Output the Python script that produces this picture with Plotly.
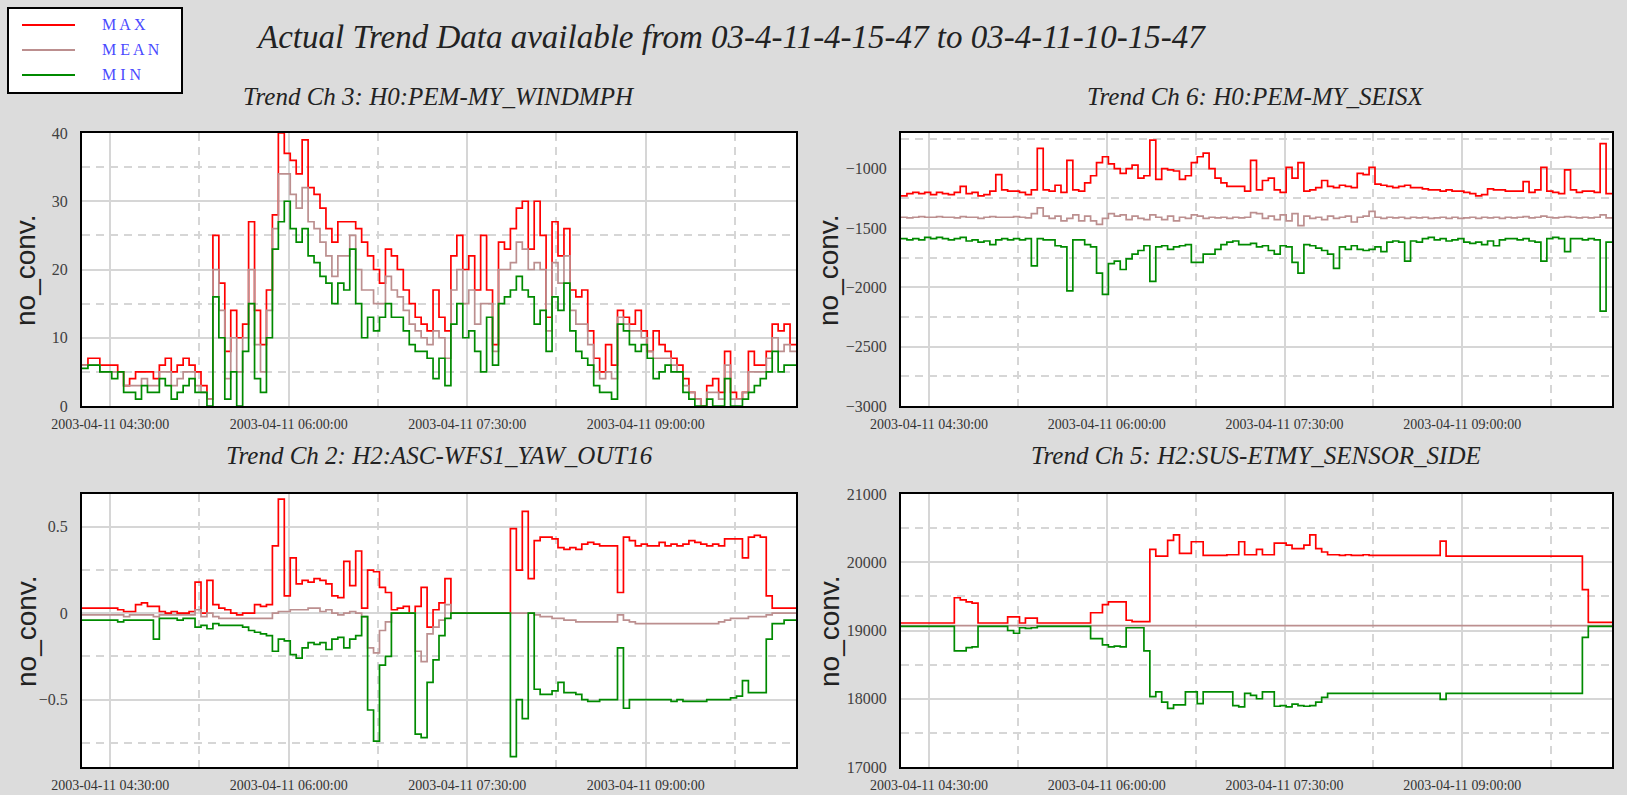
import pandas as pd
import plotly.graph_objects as go

W, H = 1627, 795
START = "2003-04-11 04:15:47"
END = "2003-04-11 10:15:47"
TIMES = list(pd.date_range(START, periods=120, freq="3min")) + [pd.Timestamp(END)]

# ---- Trend Ch 3: H0:PEM-MY_WINDMPH (3-minute samples) ----
wind_max = [6, 7, 7, 6, 6, 6, 5, 3, 4, 5,
            5, 5, 4, 6, 7, 5, 6, 7, 6, 5,
            3, 1, 25, 18, 8, 14, 10, 12, 27, 14,
            9, 17, 28, 40, 37, 36, 34, 39, 32, 31,
            29, 26, 24, 27, 27, 27, 26, 24, 22, 20,
            18, 23, 22, 20, 17, 15, 13, 12, 11, 17,
            13, 11, 22, 25, 20, 22, 17, 25, 17, 9,
            24, 23, 26, 29, 30, 23, 30, 25, 13, 27,
            22, 26, 17, 16, 17, 11, 7, 5, 9, 6,
            14, 13, 12, 14, 11, 8, 11, 9, 8, 7,
            6, 4, 2, 1, 0, 3, 4, 2, 8, 2,
            1, 2, 8, 6, 6, 8, 12, 11, 12, 9]
wind_mean = [6, 6, 6, 5, 5, 5, 5, 3, 3, 3,
             4, 3, 3, 5, 5, 3, 4, 5, 5, 3,
             2, 1, 20, 14, 4, 10, 5, 10, 20, 9,
             5, 14, 26, 34, 34, 31, 29, 32, 27, 26,
             24, 22, 19, 22, 22, 25, 20, 17, 17, 15,
             15, 19, 17, 16, 14, 12, 11, 10, 9, 11,
             10, 7, 17, 20, 15, 17, 12, 15, 15, 8,
             20, 20, 21, 24, 23, 20, 21, 20, 11, 21,
             18, 22, 14, 12, 12, 9, 5, 4, 5, 4,
             13, 12, 11, 11, 10, 8, 7, 7, 7, 6,
             5, 3, 2, 1, 0, 2, 2, 1, 6, 1,
             1, 2, 5, 5, 5, 7, 10, 8, 9, 8]
wind_min = [5.5, 6, 6, 5, 5, 4, 5, 2, 2, 1,
            3, 2, 2, 4, 3, 1, 2, 3, 4, 2,
            2, 0, 16, 10, 1, 5, 0, 8, 15, 4,
            2, 10, 23, 27, 30, 26, 24, 26, 22, 21,
            19, 18, 15, 18, 17, 23, 15, 10, 13, 11,
            13, 15, 13, 13, 11, 9, 8, 8, 7, 4,
            7, 3, 12, 15, 10, 11, 8, 5, 13, 6,
            15, 16, 17, 19, 17, 16, 12, 14, 8, 16,
            14, 18, 11, 8, 7, 6, 3, 2, 2, 1,
            12, 11, 9, 8, 9, 7, 4, 5, 6, 5,
            5, 2, 1, 0, 0, 1, 0, 0, 4, 0,
            0, 1, 2, 3, 4, 5, 8, 5, 6, 6]

# ---- Trend Ch 6: H0:PEM-MY_SEISX ----
seis_max = [-1230, -1210, -1200, -1210, -1200, -1220, -1200, -1210, -1220, -1200,
            -1150, -1210, -1200, -1230, -1220, -1190, -1050, -1180, -1190, -1190,
            -1200, -1220, -1180, -830, -1180, -1190, -1140, -1200, -930, -1180,
            -1190, -1120, -1060, -950, -900, -960, -1000, -1040, -1000, -970,
            -1080, -1060, -760, -1090, -1000, -1010, -1020, -1090, -1060, -950,
            -900, -870, -1000, -1080, -1120, -1150, -1150, -1150, -1190, -930,
            -1180, -1100, -1080, -1180, -1200, -990, -1080, -950, -1190, -1180,
            -1160, -1100, -1150, -1160, -1140, -1150, -1160, -1040, -1050, -990,
            -1130, -1140, -1150, -1160, -1150, -1140, -1160, -1160, -1170, -1180,
            -1180, -1190, -1180, -1190, -1190, -1200, -1210, -1230, -1220, -1170,
            -1180, -1180, -1190, -1190, -1190, -1110, -1200, -1180, -990, -1190,
            -1200, -1210, -1010, -1180, -1200, -1190, -1190, -1200, -790, -1210]
seis_mean = [-1410, -1415, -1410, -1405, -1410, -1410, -1405, -1410, -1410, -1415,
             -1405, -1410, -1410, -1420, -1410, -1405, -1410, -1410, -1410, -1405,
             -1410, -1415, -1380, -1330, -1400, -1420, -1400, -1440, -1420, -1390,
             -1440, -1400, -1440, -1470, -1420, -1380, -1400, -1390, -1430, -1400,
             -1420, -1430, -1390, -1410, -1430, -1400, -1440, -1410, -1420, -1390,
             -1400, -1420, -1410, -1415, -1410, -1420, -1410, -1415, -1410, -1370,
             -1380, -1420, -1400, -1430, -1390, -1440, -1380, -1480, -1400, -1420,
             -1410, -1430, -1400, -1420, -1410, -1400, -1450, -1410, -1400, -1360,
             -1410, -1420, -1410, -1415, -1410, -1420, -1410, -1415, -1410, -1420,
             -1415, -1410, -1420, -1410, -1420, -1415, -1410, -1420, -1410, -1415,
             -1410, -1420, -1410, -1415, -1410, -1405, -1415, -1410, -1400, -1410,
             -1415, -1410, -1405, -1410, -1415, -1410, -1415, -1410, -1390, -1415]
seis_min = [-1590, -1600, -1590, -1600, -1580, -1590, -1580, -1590, -1600, -1590,
            -1580, -1610, -1600, -1620, -1610, -1640, -1600, -1590, -1600, -1590,
            -1600, -1590, -1820, -1590, -1600, -1600, -1650, -1660, -2030, -1600,
            -1600, -1640, -1660, -1880, -2060, -1800, -1780, -1850, -1760, -1720,
            -1690, -1650, -1950, -1660, -1650, -1680, -1660, -1650, -1640, -1790,
            -1790, -1720, -1720, -1680, -1640, -1620, -1610, -1640, -1640, -1630,
            -1660, -1650, -1690, -1720, -1650, -1660, -1790, -1880, -1640, -1650,
            -1670, -1690, -1720, -1840, -1660, -1680, -1650, -1680, -1690, -1680,
            -1660, -1700, -1620, -1610, -1620, -1780, -1610, -1620, -1590, -1580,
            -1600, -1590, -1610, -1600, -1590, -1620, -1630, -1620, -1640, -1610,
            -1650, -1600, -1590, -1590, -1600, -1590, -1610, -1620, -1780, -1590,
            -1580, -1590, -1700, -1590, -1590, -1600, -1590, -1600, -2200, -1620]

# ---- Trend Ch 2: H2:ASC-WFS1_YAW_OUT16 ----
asc_max = [0.03, 0.03, 0.03, 0.03, 0.03, 0.03, 0.02, 0.01, 0.01, 0.05,
           0.06, 0.04, 0.04, 0.01, 0.0, 0.01, 0.0, 0.0, 0.01, 0.18,
           0.0, 0.19, 0.05, 0.03, 0.02, 0.0, -0.01, 0.0, 0.0, 0.05,
           0.04, 0.05, 0.39, 0.66, 0.1, 0.32, 0.17, 0.19, 0.18, 0.2,
           0.19, 0.17, 0.1, 0.09, 0.3, 0.16, 0.36, 0.03, 0.25, 0.24,
           0.15, 0.12, 0.02, 0.03, 0.04, 0.0, 0.04, 0.15, -0.08, 0.02,
           0.06, 0.2, 0.0, 0.0, 0.0, 0.0, 0.0, 0.0, 0.0, 0.0,
           0.0, 0.0, 0.49, 0.25, 0.59, 0.2, 0.42, 0.44, 0.44, 0.43,
           0.38, 0.37, 0.38, 0.37, 0.4, 0.41, 0.4, 0.39, 0.39, 0.39,
           0.12, 0.44, 0.42, 0.39, 0.4, 0.39, 0.39, 0.41, 0.39, 0.4,
           0.39, 0.4, 0.42, 0.41, 0.4, 0.39, 0.4, 0.39, 0.43, 0.43,
           0.43, 0.32, 0.44, 0.45, 0.44, 0.1, 0.03, 0.03, 0.03, 0.03]
asc_mean = [-0.01, -0.01, -0.01, -0.01, -0.01, -0.01, -0.01, -0.02, -0.01, -0.01,
            -0.01, -0.01, -0.02, -0.01, -0.01, -0.01, -0.01, -0.01, -0.01, 0.02,
            -0.02, 0.0, -0.02, -0.03, -0.03, -0.03, -0.03, -0.03, -0.03, -0.03,
            -0.03, -0.03, 0.0, 0.01, 0.01, 0.02, 0.02, 0.02, 0.03, 0.03,
            0.01, 0.02, 0.0, -0.01, 0.0, 0.01, 0.0, -0.02, -0.2, -0.23,
            -0.1, -0.05, 0.0, 0.0, 0.0, 0.0, -0.22, -0.28, -0.12, -0.08,
            -0.04, 0.05, 0.0, 0.0, 0.0, 0.0, 0.0, 0.0, 0.0, 0.0,
            0.0, 0.0, 0.0, 0.0, 0.0, 0.0, -0.01, -0.02, -0.02, -0.03,
            -0.03, -0.04, -0.04, -0.05, -0.05, -0.05, -0.05, -0.05, -0.05, -0.05,
            -0.01, -0.04, -0.05, -0.06, -0.06, -0.06, -0.06, -0.06, -0.06, -0.06,
            -0.06, -0.06, -0.06, -0.06, -0.06, -0.06, -0.06, -0.05, -0.04, -0.03,
            -0.03, -0.03, -0.02, -0.02, -0.02, -0.01, 0.0, 0.0, 0.0, 0.0]
asc_min = [-0.04, -0.04, -0.04, -0.04, -0.04, -0.04, -0.05, -0.04, -0.04, -0.04,
           -0.04, -0.04, -0.15, -0.03, -0.03, -0.03, -0.04, -0.03, -0.03, -0.08,
           -0.07, -0.09, -0.06, -0.07, -0.07, -0.07, -0.07, -0.08, -0.1, -0.11,
           -0.12, -0.13, -0.22, -0.15, -0.16, -0.24, -0.26, -0.2, -0.17, -0.18,
           -0.17, -0.21, -0.15, -0.14, -0.2, -0.15, -0.13, -0.02, -0.56, -0.74,
           -0.3, -0.25, 0.0, 0.0, 0.0, 0.0, -0.7, -0.72, -0.4, -0.27,
           -0.13, -0.03, 0.0, 0.0, 0.0, 0.0, 0.0, 0.0, 0.0, 0.0,
           0.0, 0.0, -0.83, -0.5, -0.61, 0.0, -0.44, -0.47, -0.47, -0.45,
           -0.4, -0.46, -0.46, -0.47, -0.5, -0.51, -0.51, -0.5, -0.5, -0.5,
           -0.2, -0.55, -0.5, -0.5, -0.5, -0.5, -0.5, -0.5, -0.5, -0.51,
           -0.5, -0.51, -0.51, -0.51, -0.51, -0.5, -0.5, -0.5, -0.5, -0.49,
           -0.48, -0.39, -0.46, -0.46, -0.46, -0.15, -0.06, -0.06, -0.04, -0.04]

# ---- Trend Ch 5: H2:SUS-ETMY_SENSOR_SIDE ----
sus_max = [19110, 19110, 19110, 19110, 19110, 19110, 19110, 19110, 19110, 19480,
           19450, 19420, 19400, 19110, 19110, 19110, 19110, 19110, 19200, 19200,
           19110, 19180, 19180, 19110, 19110, 19110, 19110, 19110, 19110, 19110,
           19110, 19110, 19260, 19260, 19380, 19420, 19420, 19420, 19150, 19130,
           19130, 19130, 20190, 20090, 20090, 20320, 20400, 20130, 20130, 20300,
           20300, 20100, 20100, 20100, 20100, 20110, 20110, 20300, 20110, 20110,
           20190, 20110, 20110, 20280, 20280, 20250, 20200, 20200, 20250, 20400,
           20200, 20150, 20110, 20110, 20100, 20110, 20100, 20100, 20110, 20100,
           20100, 20100, 20100, 20100, 20100, 20100, 20100, 20100, 20100, 20100,
           20100, 20310, 20090, 20090, 20090, 20090, 20090, 20090, 20090, 20090,
           20090, 20090, 20090, 20090, 20090, 20090, 20090, 20090, 20090, 20090,
           20090, 20090, 20090, 20090, 20090, 19600, 19120, 19120, 19120, 19120]
sus_mean_times = [START, END]
sus_mean = [19070, 19070]
sus_min = [19060, 19060, 19060, 19060, 19060, 19060, 19060, 19060, 19060, 18700,
           18700, 18750, 18760, 19060, 19060, 19060, 19060, 19060, 19000, 18960,
           19040, 19030, 19040, 19060, 19060, 19060, 19060, 19060, 19060, 19060,
           19060, 19060, 18880, 18880, 18790, 18760, 18770, 18760, 19040, 19040,
           19040, 18700, 18030, 18100, 17950, 17860, 17910, 17910, 18100, 18100,
           17930, 18100, 18100, 18100, 18100, 18100, 17900, 17880, 18080, 18050,
           18000, 18100, 18100, 17890, 17900, 17880, 17920, 17900, 17890, 17900,
           17950, 18020, 18080, 18080, 18080, 18080, 18080, 18080, 18080, 18080,
           18080, 18080, 18080, 18080, 18080, 18080, 18080, 18080, 18080, 18080,
           18080, 17990, 18080, 18080, 18080, 18080, 18080, 18080, 18080, 18080,
           18080, 18080, 18080, 18080, 18080, 18080, 18080, 18080, 18080, 18080,
           18080, 18080, 18080, 18080, 18080, 18900, 19060, 19060, 19060, 19060]

panel_titles = ["Trend Ch 3: H0:PEM-MY_WINDMPH", "Trend Ch 6: H0:PEM-MY_SEISX",
                "Trend Ch 2: H2:ASC-WFS1_YAW_OUT16", "Trend Ch 5: H2:SUS-ETMY_SENSOR_SIDE"]
main_title = "Actual Trend Data available from 03-4-11-4-15-47 to 03-4-11-10-15-47"
legend_names = ["M A X", "M E A N", "M I N"]

RED, MEAN_C, GREEN = "#ff0000", "#bc8f8f", "#008a00"
GRID = "#d6d6d6"
SERIF = "Liberation Serif"


def px_x(p):
    return p / W


def px_y(p):
    return 1 - p / H


fig = go.Figure()

panels = [
    ("", wind_max, wind_mean, wind_min, None, [0, 40], 10, (82, 796), (133, 406)),
    ("2", seis_max, seis_mean, seis_min, None, [-3000, -700], 500, (901, 1612), (133, 406)),
    ("3", asc_max, asc_mean, asc_min, None, [-0.89, 0.69], 0.5, (82, 796), (494, 767)),
    ("4", sus_max, sus_mean, sus_min, sus_mean_times, [17000, 21000], 1000, (901, 1612), (494, 767)),
]

for suf, vmax, vmean, vmin, mean_x, yr, dt, xd, yd in panels:
    xa, ya = "x" + suf, "y" + suf
    for vals, col, xs in ((vmax, RED, None), (vmean, MEAN_C, mean_x), (vmin, GREEN, None)):
        if xs is None:
            xs = TIMES
            ys = list(vals) + [vals[-1]]
        else:
            ys = list(vals)
        fig.add_trace(go.Scatter(x=xs, y=ys, mode="lines", line=dict(color=col, width=1.7, shape="hv"),
                                 xaxis=xa, yaxis=ya, showlegend=False, hoverinfo="skip"))
    fig.layout["xaxis" + suf] = dict(
        domain=[px_x(xd[0]), px_x(xd[1])], anchor=ya, type="date", range=[START, END],
        automargin=False,
        tickmode="linear", tick0="2003-04-11 04:30:00", dtick=5400000,
        tickformat="%Y-%m-%d %H:%M:%S", ticks="outside", ticklen=4, tickcolor="rgba(0,0,0,0)",
        tickfont=dict(family=SERIF, size=14, color="#333333"),
        showgrid=True, gridcolor=GRID, gridwidth=1.5,
        minor=dict(dtick=2700000, tick0="2003-04-11 04:30:00", showgrid=True, gridcolor=GRID,
                   gridwidth=1.5, griddash="8px,6px"),
        showline=True, linecolor="black", linewidth=2, mirror=True, zeroline=False,
    )
    fig.layout["yaxis" + suf] = dict(
        domain=[px_y(yd[1]), px_y(yd[0])], anchor=xa, range=yr,
        automargin=False,
        tickmode="linear", tick0=0, dtick=dt, tickformat="d" if dt >= 1 else "",
        ticks="outside", ticklen=9, tickcolor="rgba(0,0,0,0)",
        tickfont=dict(family=SERIF, size=16, color="#404040"),
        showgrid=True, gridcolor=GRID, gridwidth=1.5,
        minor=dict(dtick=dt / 2, tick0=0, showgrid=True, gridcolor=GRID, gridwidth=1.5, griddash="8px,6px"),
        showline=True, linecolor="black", linewidth=2, mirror=True, zeroline=False,
    )

annotations = []
annotations.append(dict(text="<i>" + main_title + "</i>", x=px_x(731), y=px_y(37), xref="paper", yref="paper",
                        xanchor="center", yanchor="middle", showarrow=False,
                        font=dict(family=SERIF, size=33, color="#222222")))
title_pos = [(439, 97), (1256, 97), (439, 455), (1256, 455)]
for t, (cx, cy) in zip(panel_titles, title_pos):
    annotations.append(dict(text="<i>" + t + "</i>", x=px_x(cx), y=px_y(cy), xref="paper", yref="paper",
                            xanchor="center", yanchor="middle", showarrow=False,
                            font=dict(family=SERIF, size=25, color="#222222")))
for cx, cy in [(26, 270), (829, 270), (26, 631), (829, 631)]:
    annotations.append(dict(text="no_conv.", x=px_x(cx), y=px_y(cy), xref="paper", yref="paper",
                            xanchor="center", yanchor="middle", showarrow=False, textangle=-90,
                            font=dict(family="Liberation Sans", size=28, color="#222222")))

shapes = [dict(type="rect", xref="paper", yref="paper", x0=px_x(8), x1=px_x(182), y0=px_y(93), y1=px_y(8),
               fillcolor="white", line=dict(color="black", width=2))]
for name, col, ly in zip(legend_names, [RED, MEAN_C, GREEN], [25, 50, 75]):
    shapes.append(dict(type="line", xref="paper", yref="paper", x0=px_x(22), x1=px_x(75),
                       y0=px_y(ly), y1=px_y(ly), line=dict(color=col, width=2)))
    annotations.append(dict(text=name, x=px_x(100), y=px_y(ly), xref="paper", yref="paper",
                            xanchor="left", yanchor="middle", showarrow=False,
                            font=dict(family=SERIF, size=16, color="#4a4aff")))

fig.update_layout(
    width=W, height=H, margin=dict(l=0, r=0, t=0, b=0, autoexpand=False),
    paper_bgcolor="#dcdcdc", plot_bgcolor="white",
    annotations=annotations, shapes=shapes, showlegend=False,
)

fig.write_html("out.html", config={"displayModeBar": False},
               post_script="document.body.style.margin='0';document.body.style.overflow='hidden';")
